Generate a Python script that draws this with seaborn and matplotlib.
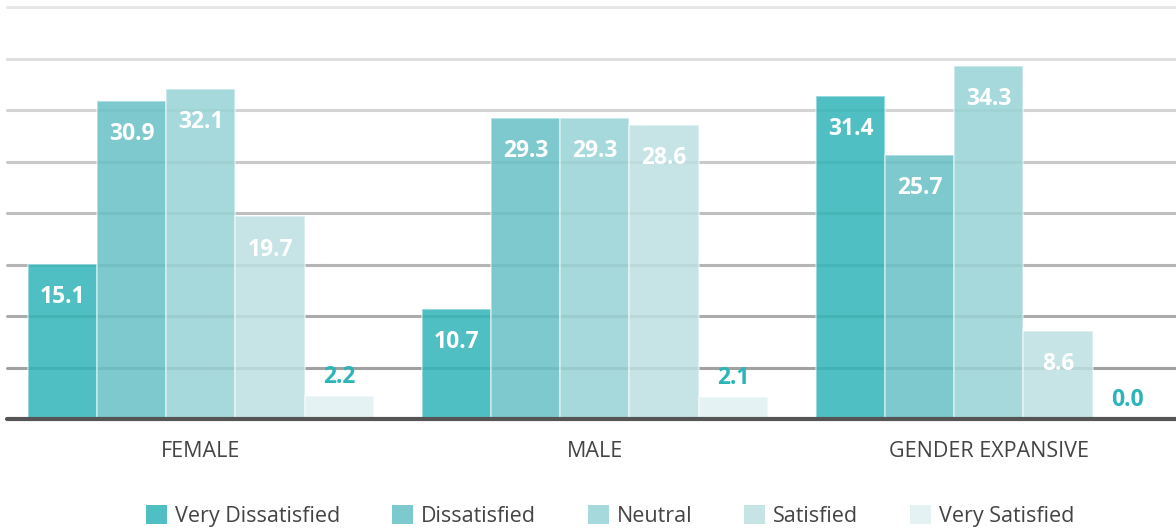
import numpy as np
import pandas as pd
import matplotlib
matplotlib.use("Agg")
import matplotlib.pyplot as plt
from matplotlib.patches import Patch
from matplotlib.colors import to_rgb
import seaborn as sns

# Survey results (% of respondents) by gender group and satisfaction level
groups = ["FEMALE", "MALE", "GENDER EXPANSIVE"]
levels = ["Very Dissatisfied", "Dissatisfied", "Neutral", "Satisfied", "Very Satisfied"]
female = [15.1, 30.9, 32.1, 19.7, 2.2]
male = [10.7, 29.3, 29.3, 28.6, 2.1]
gender_expansive = [31.4, 25.7, 34.3, 8.6, 0.0]

level_colors = ["#4FBFC3", "#7DCACE", "#A6D9DB", "#C6E4E6", "#E4F2F3"]
outside_color = "#2BB5B9"

rows = []
for g, vals in zip(groups, [female, male, gender_expansive]):
    for lvl, v in zip(levels, vals):
        rows.append({"group": g, "level": lvl, "value": v})
df = pd.DataFrame(rows)

sns.set_theme(style="white")
plt.rcParams["font.family"] = ["Open Sans", "DejaVu Sans"]

# translucent fills that look like the target tint over white
ALPHA = 0.86
def translucent(hex_color, a=ALPHA):
    rgb = np.array(to_rgb(hex_color))
    base = np.clip((rgb - (1 - a)) / a, 0, 1)
    return (*base, a)

palette = {lvl: translucent(c) for lvl, c in zip(levels, level_colors)}

fig = plt.figure(figsize=(11.76, 5.30), dpi=100)
ax = fig.add_axes([7 / 1176, 111 / 530, 1 - 7 / 1176, 1 - 111 / 530])

# graded horizontal guides, darker toward the baseline
grid_levels = np.arange(5, 45, 5)
grays = np.linspace(0.63, 0.91, len(grid_levels))
for y, g in zip(grid_levels, grays):
    ax.axhline(y, color=(g, g, g), lw=2.2, zorder=0, clip_on=False)

sns.barplot(data=df, x="group", y="value", hue="level", order=groups,
            hue_order=levels, palette=palette, width=0.878, ax=ax,
            edgecolor=(1, 1, 1, 0.5), linewidth=1.2, saturation=1,
            legend=False, zorder=2, errorbar=None)

ax.axhline(0, color="#555555", lw=3, zorder=5, clip_on=False)

# value labels
for lvl_idx, container in enumerate(ax.containers):
    for grp_idx, bar in enumerate(container):
        val = df[(df["group"] == groups[grp_idx]) & (df["level"] == levels[lvl_idx])]["value"].iloc[0]
        cx = bar.get_x() + bar.get_width() / 2
        if val >= 5:
            ax.annotate(f"{val:.1f}", (cx, val), xytext=(0, -24), textcoords="offset points",
                        ha="center", va="center", color="white", fontsize=16.5,
                        fontweight="bold", zorder=6)
        else:
            ax.annotate(f"{val:.1f}", (cx, val), xytext=(0, 5), textcoords="offset points",
                        ha="center", va="bottom", color=outside_color, fontsize=16.5,
                        fontweight="bold", zorder=6)

ax.set_xlim(-0.492, 2.475)
ax.set_ylim(0, 40.72)
ax.set_yticks([])
ax.set_xlabel("")
ax.set_ylabel("")
ax.tick_params(axis="x", length=0, pad=16, labelsize=15.5, labelcolor="#444444")
for s in ax.spines.values():
    s.set_visible(False)

handles = [Patch(facecolor=c, edgecolor="none") for c in level_colors]
fig.legend(handles, levels, loc="center", bbox_to_anchor=(610 / 1176, 14 / 530),
           ncol=5, frameon=False, fontsize=15.5, handlelength=1.0, handleheight=1.0,
           handletextpad=0.35, columnspacing=2.4, labelcolor="#444444",
           borderaxespad=0, borderpad=0)

fig.savefig("out.png", dpi=100)
